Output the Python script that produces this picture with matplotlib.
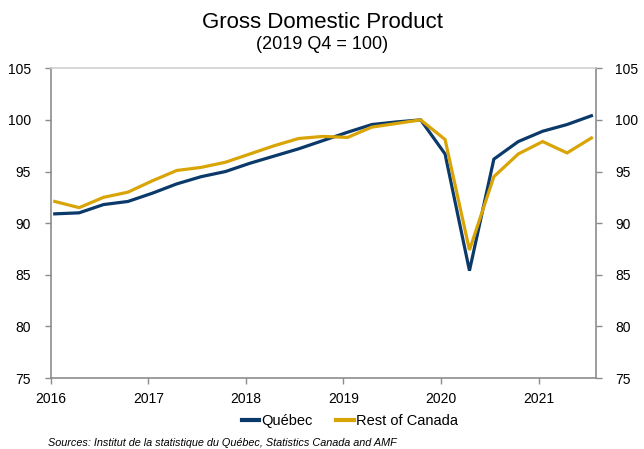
import matplotlib.pyplot as plt
import numpy as np

plt.rcParams['font.family'] = ['Liberation Sans', 'DejaVu Sans']

# Quarterly GDP index, 2016 Q1 to 2021 Q3 (2019 Q4 = 100)
# each quarter is placed in the middle of its first month, as on a monthly date axis
quarters = [2016 + i * 0.25 + 1 / 24 for i in range(23)]
quebec = [90.9, 91.0, 91.8, 92.1, 92.9, 93.8, 94.5, 95.0, 95.8, 96.5, 97.2, 98.0,
          98.8, 99.55, 99.8, 100.0, 96.7, 85.4, 96.2, 97.9, 98.9, 99.55, 100.4]
rest_of_canada = [92.1, 91.5, 92.5, 93.0, 94.1, 95.1, 95.4, 95.9, 96.7, 97.5, 98.2, 98.4,
                  98.3, 99.3, 99.65, 100.0, 98.1, 87.4, 94.5, 96.7, 97.9, 96.8, 98.25]
year_ticks = [2016, 2017, 2018, 2019, 2020, 2021]
y_ticks = [75, 80, 85, 90, 95, 100, 105]

navy = '#0b3a6a'
gold = '#d9a506'
spine_gray = '#8c8c8c'

fig = plt.figure(figsize=(6.44, 4.49), dpi=100)
ax = fig.add_axes([0.0787, 0.158, 0.846, 0.690])

ax.plot(quarters, quebec, color=navy, lw=2.3, label='Québec', solid_joinstyle='miter')
ax.plot(quarters, rest_of_canada, color=gold, lw=2.3, label='Rest of Canada', solid_joinstyle='miter')

ax.set_xlim(2016, 2021 + 7 / 12)
ax.set_ylim(75, 105)
ax.set_xticks(year_ticks)
ax.set_xticklabels([str(y) for y in year_ticks])
ax.set_yticks(y_ticks)

ax.tick_params(axis='both', labelsize=10, color=spine_gray, length=4, width=1)
ax.tick_params(axis='x', pad=6)
ax.tick_params(axis='y', pad=10)

for side in ['left', 'right', 'bottom']:
    ax.spines[side].set_color(spine_gray)
    ax.spines[side].set_linewidth(1.2)
ax.spines['top'].set_color('#cfcfcf')
ax.spines['top'].set_linewidth(1.2)

# right-hand axis with the same scale
ax2 = ax.twinx()
ax2.set_ylim(75, 105)
ax2.set_yticks(y_ticks)
ax2.tick_params(axis='y', labelsize=10, color=spine_gray, length=4, width=1, pad=10)
for s in ax2.spines.values():
    s.set_visible(False)

fig.text(0.5, 0.951, 'Gross Domestic Product', ha='center', va='center', fontsize=16)
fig.text(0.5, 0.902, '(2019 Q4 = 100)', ha='center', va='center', fontsize=13)

leg = fig.legend(loc='center', bbox_to_anchor=(0.5435, 0.063), ncol=2, frameon=False,
                 fontsize=10.5, handlelength=1.2, handletextpad=0.15, columnspacing=1.6)
for line in leg.get_lines():
    line.set_linewidth(3)

fig.text(0.075, 0.013, 'Sources: Institut de la statistique du Québec, Statistics Canada and AMF',
         ha='left', va='center', fontsize=7.8, style='italic')

fig.savefig('out.png', dpi=100)
